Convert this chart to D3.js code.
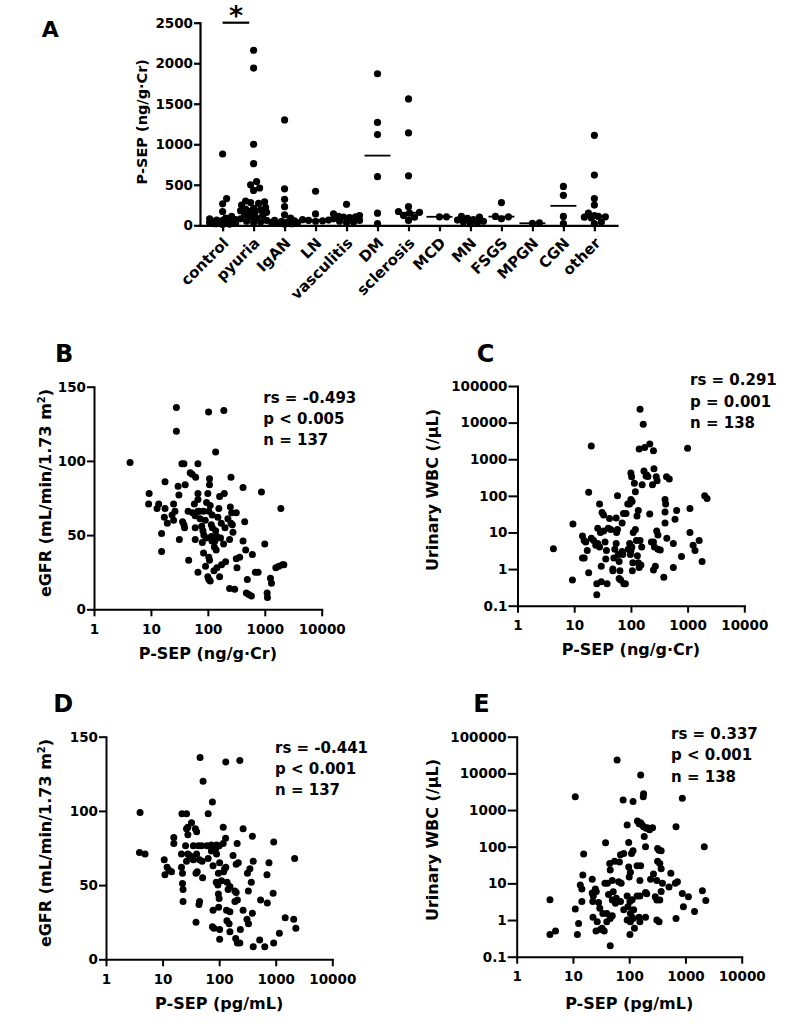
<!DOCTYPE html>
<html><head><meta charset="utf-8">
<script src="https://cdn.jsdelivr.net/npm/d3@7"></script>
<style>
body{margin:0;background:#fff}
svg text{font-family:"DejaVu Sans",sans-serif;font-weight:bold;fill:#000}
</style>
</head><body>
<svg id="chart" width="812" height="1024"></svg>
<script>
// ---------- Panel A data ----------
const categories = ["control","pyuria","IgAN","LN","vasculitis","DM","sclerosis","MCD","MN","FSGS","MPGN","CGN","other"];
const controlVals = [880,330,265,170,110,90,80,70,65,60,55,50,45,40,35,30,25,20,15,10];
const pyuriaVals = [2160,1940,1000,760,540,500,460,430,300,290,280,270,250,220,210,200,190,180,170,160,150,130,120,100,90,80,60,50,40,30];
const igaVals = [1300,450,320,230,130,90,60,55,50,40,35,30,25,20,15];
const lnVals = [420,140,70,65,60,55,50];
const vascVals = [260,140,120,110,105,100,95,80,60,50,40,30];
const dmVals = [1870,1270,1120,600,150,20];
const sclerosisVals = [1560,1140,610,230,170,160,150,120,100,60];
const mcdVals = [105,105];
const mnVals = [110,100,85,70,65,50,40,30,20];
const fsgsVals = [280,110,105,80];
const mpgnVals = [30,25];
const cgnVals = [480,370,110,20];
const otherVals = [1110,620,330,250,150,120,110,105,100,90,40,20];
const groupValues = [controlVals,pyuriaVals,igaVals,lnVals,vascVals,dmVals,sclerosisVals,mcdVals,mnVals,fsgsVals,mpgnVals,cgnVals,otherVals];
const groupMedians = [62,205,50,65,98,860,155,105,65,107,25,240,115];
const aTicks = [0,500,1000,1500,2000,2500];

// ---------- Scatter data: [P-SEP, y] ----------
const panelB = [
[28,136],[28,120],[103,133],[191,134],[137,106],[4.3,99],
[35,98],[38,98],[67,98],
[49,92],[53,91],[61,89],[107,88],[255,89],
[17.7,86],[40,84],[107,84],[415,82],[30,83],
[9.3,78],[31,77],[67,78],[100,78],[194,78],[161,76],[874,79],
[9.1,71],[13.7,71],[25,71],[58,71],[67,74],[110,70],[248,69],
[12.8,68],[17.7,68],[26.5,66],[54,65],[67,66],[71,66],[84,66],[104,66],[156,68],[262,65],[316,65],[1915,68],
[17.2,62],[23.5,63.5],[25,60],[36,59],[38,57],[73,61],[119,63.5],[225,61],[255,58],[269,57],[172,58],[444,59],
[19.4,58],[39,55],[78,56],[82,53],[115,57],[137,53],[276,52],
[15.4,51],[60,55],[115,49],[93,48],[144,49],
[31.6,47],[60,47],[118,46],[133,46],[167,48],[241,47],[189,44],[415,46],[1000,44],
[15.4,39],[84,38],[140,40],[462,40],
[46,33],[104,35],[107,33],[316,34],[362,35],[606,37],
[91,29],[174,30],[205,32],[144,28],[325,28],[1563,28],[1766,29],[2050,30],[2163,30],
[67,25],[128,26],[684,25],[763,25],
[100,22],[104,20],[110,19],[161,22],[494,20],[1259,21],[1312,17.5],
[241,14],[296,13.5],[475,11],[522,10],[582,9],[1100,11],
[1114,8],
[90,60],[120,55],[150,62],[80,45],[130,42],[95,72],[200,55],[60,63],[45,66],[85,50]
];
const panelC = [
[4.3,3.6],[9.3,0.5],[9.5,17],[20,2300],[18,125],
[14,8],[15,6],[16,5.5],[14,2],[15,2],[17,3.2],[18,0.8],[20,7],[22,6],[24,4.5],
[26,13],[28,60],[31,35],[33,30],[26,5],[28,4],[29,10],[33,11],[30,1.2],[30,0.45],[25,0.4],[25,0.2],[35,5.5],[37,3.2],[36,1.9],[38,0.4],
[42,24],[44,12],[40,13],[48,1],[48,0.9],[50,2],[55,25],[56,10],[58,100],[58,12],[52,3.5],[55,5],[60,2.5],[62,1.6],[64,0.9],[62,0.55],[66,0.5],[70,3],[72,2.5],[75,0.4],[80,0.4],
[70,18],[74,33],[82,33],[88,60],[95,60],[100,80],[105,70],[90,3.5],[95,5],[98,2.5],[100,3.2],[104,4],[108,1.5],[106,0.9],
[100,420],[103,330],[115,220],[120,12],[110,10],[125,6],[130,2.3],[135,1.5],[140,1.1],[150,1.3],[128,28],[135,40],[120,130],
[145,6],[155,4],[140,1900],[175,2100],[145,23000],[165,9000],[170,480],[190,370],[200,340],[158,200],[185,350],
[215,2600],[250,1700],[255,550],[280,330],[290,260],[240,200],[215,32],[250,5.5],[260,4],[270,1.2],[250,0.95],[230,5.5],[300,3.5],[285,11],[300,8.5],[330,3.3],[380,0.6],
[425,330],[475,290],[400,80],[410,60],[400,36],[400,18],[430,7],[600,23],[560,5],[560,1.1],[780,2.2],[640,40],[1000,2000],
[1100,45],[1100,10],[1250,4.5],[1350,3.2],[1600,6],[1800,1.6],[2000,100],[2200,85]
];
const panelD = [
[4,99],[3.9,72],[4.9,71],
[46,136],[52,120],[131,133],[232,134],[76,106],[64,98],
[22,98],[26.5,98],[32.5,92],[28,89],[26.5,88],[38,88],[40,86],
[15.8,82],[15.8,78],[28,84],
[25.5,76.5],[35,76.5],[43,76.5],[49,76.5],[61,76.5],[73,77],[90,77],[100,76.5],
[118,89],[130,81.5],[118,78],[208,78],[265,88],[387,83],[922,79],[2160,68],
[10.7,67],[12,62],[14.4,59],[11,57],[13,60],
[21.6,71],[21.6,62],[22.5,58],[22.5,51],[23,47],[23,39],
[26.5,66],[28,71],[30,70],[33,69],[35,67],
[40,71],[45,67],[50,66],
[39,58],[41,59],[45,39],[44,37],[39,25],
[51,55],[64,68],[73,73],[88,75],
[78,63],[90,71],[102,65],[97,58],[110,53],[89,52],[95,50],
[120,59],[125,61],[131,62],[138,52],[155,49],[144,47],
[97,44],[100,41],[98,35],[78,33],
[76,22],[81,21],[102,20],[102,13.5],
[135,33],[155,32],[137,26],[150,24],[155,18.6],
[190,46],[200,45],[210,40],[190,39],
[176,70],[218,65],[200,64],
[196,14],[210,11],[232,11],[237,20],
[265,33],[310,27],[330,24],[328,46],[316,58],[350,61],[370,52],[387,31],[400,66],[400,8.5],
[540,40],[710,38],[700,57],[760,65],[640,8.5],[520,13],[900,44.5],[920,11],[1160,17.5],[1470,28],[2080,27],[2270,21]
];
const panelE = [
[3.9,3.6],[3.9,0.4],[4.9,0.5],
[11,2300],[11,2],[12,0.4],[12.6,0.8],[13.5,9],[14.4,7],[15.5,63],[15,17],[14.4,3.2],
[22,13],[22,5.5],[25,7],[23,4.5],[26,6],[22.5,3.2],[22.7,1.2],[25.7,0.5],[30.7,0.55],[28.6,3],[30,2.1],[27,0.9],[33,0.6],[34,1.5],[40,1.5],
[37,10],[41,10],[43,5],[38,128],[45,35],[46,23],[50,12],[40,0.9],[46,1.1],[50,1.3],[36,0.5],[46,0.2],
[52,5.9],[50,3.5],[59,3.9],[57,2.85],[70,3.2],
[55,40],[67,38],[70,60],[80,65],[65,11],[72,10],
[78,1870],[61,23000],[98,130],[92,390],[110,65],[117,78],[98,28],[105,20],[100,15],
[92,4.5],[113,3.6],[103,3.2],[80,1.9],[95,2.3],[105,1.5],[120,1.9],[113,1.2],
[92,1],[105,0.9],[117,1.1],[103,0.4],[124,0.6],
[117,1700],[140,500],[150,420],[160,450],[160,9000],[138,30],[160,30],[155,12],[138,4.5],[155,4.5],[150,1.2],[155,0.9],
[170,390],[178,2300],[180,2800],[180,350],[200,320],[210,330],[230,290],[260,330],[185,190],[195,100],[195,5.6],[205,5.2],[195,1.2],
[240,13],[270,18],[290,4.3],[310,12],[310,1],[310,3.5],[350,3.5],[320,90],[340,80],[370,78],[320,40],[350,35],[370,25],[370,6],[390,10],[340,0.9],
[550,19],[510,8],[660,10],[720,11],[680,350],[680,1.1],[880,2100],[880,5.3],[920,2.3],[1130,4.3],[1450,1.7],[2000,6.3],[2160,100],[2300,3.4]
];
const xTickVals = [1,10,100,1000,10000];
const egfrTicks = [0,50,100,150];
const wbcTicks = [0.1,1,10,100,1000,10000,100000];

// ---------- drawing ----------
const svg = d3.select("#chart");
const FONT = '"DejaVu Sans",sans-serif';
const fmt = d => String(d);
function styleAxis(g, sw, fs){
  g.attr("font-family", FONT).attr("font-size", fs).attr("font-weight","bold");
  g.select(".domain").attr("stroke","#000").attr("stroke-width", sw).attr("stroke-linecap","square");
  g.selectAll(".tick line").attr("stroke","#000").attr("stroke-width", sw);
  g.selectAll(".tick text").attr("fill","#000").attr("font-size", fs);
}
function label(x, y, txt, size, opts={}){
  const t = svg.append("text").attr("x",x).attr("y",y).attr("font-size",size).text(txt);
  if(opts.anchor) t.attr("text-anchor",opts.anchor);
  if(opts.transform) t.attr("transform",opts.transform);
  return t;
}

// Panel A
(function(){
  const x = d3.scalePoint().domain(categories).range([200,617]).padding(0.73);
  const y = d3.scaleLinear().domain([0,2500]).range([225.3,22.7]);
  const r = 3.6;
  const gx = svg.append("g").attr("transform","translate(0,225.3)")
    .call(d3.axisBottom(x).tickSize(6).tickSizeOuter(0).tickFormat(""));
  styleAxis(gx, 2.2, 13.5);
  const gy = svg.append("g").attr("transform","translate(200,0)")
    .call(d3.axisLeft(y).tickValues(aTicks).tickFormat(fmt).tickSize(6).tickSizeOuter(0).tickPadding(1));
  styleAxis(gy, 2.2, 13.5);
  categories.forEach(c=>{
    label(x(c)+7, 244, c, 15, {anchor:"end", transform:`rotate(-45 ${x(c)+7} 244)`});
  });
  groupValues.forEach((vals,gi)=>{
    const cx = x(categories[gi]);
    const placed = [];
    vals.slice().sort((a,b)=>a-b).forEach(v=>{
      const py = y(v);
      let best = 0, bestD = -1;
      for(let k=0;k<=28;k++){
        const off = (k%2===1 ? 1 : -1) * Math.ceil(k/2);
        if(Math.abs(off)>13) continue;
        let md = Infinity;
        placed.forEach(p=>{ md = Math.min(md, Math.hypot(p[0]-(cx+off), p[1]-py)); });
        if(md >= 6.4){ best = off; bestD = md; break; }
        if(md > bestD){ bestD = md; best = off; }
      }
      placed.push([cx+best, py]);
    });
    svg.append("g").selectAll("circle").data(placed).join("circle")
      .attr("cx",d=>d[0]).attr("cy",d=>d[1]).attr("r",r).attr("fill","#000");
    svg.append("line").attr("x1",cx-13).attr("x2",cx+13)
      .attr("y1",y(groupMedians[gi])).attr("y2",y(groupMedians[gi]))
      .attr("stroke","#000").attr("stroke-width",1.8);
  });
  svg.append("line").attr("x1",x("control")).attr("x2",x("control")+26.6)
    .attr("y1",y(2500)).attr("y2",y(2500)).attr("stroke","#000").attr("stroke-width",2.2);
  label(236, 25, "*", 27, {anchor:"middle"});
  label(147, 121.7, "P-SEP (ng/g·Cr)", 14.5, {anchor:"middle", transform:"rotate(-90 147 121.7)"});
  label(41.7, 36.7, "A", 22);
})();

function scatter(cfg){
  const x = d3.scaleLog().domain([1,10000]).range(cfg.xr);
  const y = cfg.logY ? d3.scaleLog().domain([0.1,100000]).range(cfg.yr)
                     : d3.scaleLinear().domain([0,150]).range(cfg.yr);
  const gx = svg.append("g").attr("transform",`translate(0,${cfg.yr[0]})`)
    .call(d3.axisBottom(x).tickValues(xTickVals).tickFormat(fmt).tickSize(7).tickSizeOuter(0).tickPadding(8));
  styleAxis(gx, 2, 13.5);
  const gy = svg.append("g").attr("transform",`translate(${cfg.xr[0]},0)`)
    .call(d3.axisLeft(y).tickValues(cfg.logY ? wbcTicks : egfrTicks).tickFormat(fmt)
      .tickSize(cfg.logY ? 9 : 7).tickSizeOuter(0).tickPadding(1));
  styleAxis(gy, 2, 13.5);
  svg.append("g").selectAll("circle").data(cfg.data).join("circle")
    .attr("cx",d=>x(d[0])).attr("cy",d=>y(d[1])).attr("r",3.5).attr("fill","#000");
  const cxm = (cfg.xr[0]+cfg.xr[1])/2;
  label(cxm, cfg.xTitleY, cfg.xTitle, 16, {anchor:"middle"});
  const ty = cfg.yTitleC;
  const yt = label(cfg.yTitleX, ty, "", 16, {anchor:"middle", transform:`rotate(-90 ${cfg.yTitleX} ${ty})`});
  if(cfg.logY){ yt.text("Urinary WBC (/μL)"); }
  else {
    yt.append("tspan").text("eGFR (mL/min/1.73 m");
    yt.append("tspan").attr("font-size",10).attr("dy",-6).text("2");
    yt.append("tspan").attr("dy",6).text(")");
  }
  cfg.stats.forEach((s,i)=> label(cfg.statX, cfg.statY[i], s, 15));
  label(cfg.letterX, cfg.letterY, cfg.letter, 24);
}

scatter({data:panelB, logY:false, xr:[94,321.7], yr:[609.3,386.7],
  xTitle:"P-SEP (ng/g·Cr)", xTitleY:659, yTitleX:50.5, yTitleC:493,
  stats:["rs = -0.493","p < 0.005","n = 137"], statX:263.3, statY:[402.7,423.5,445],
  letter:"B", letterX:55, letterY:361.7});
scatter({data:panelC, logY:true, xr:[517.5,744.3], yr:[605.7,386],
  xTitle:"P-SEP (ng/g·Cr)", xTitleY:655, yTitleX:438.3, yTitleC:490,
  stats:["rs = 0.291","p = 0.001","n = 138"], statX:690, statY:[385,406.7,428.3],
  letter:"C", letterX:476.7, letterY:362});
scatter({data:panelD, logY:false, xr:[106,332.3], yr:[959.3,736.7],
  xTitle:"P-SEP (pg/mL)", xTitleY:1009, yTitleX:50.5, yTitleC:843,
  stats:["rs = -0.441","p < 0.001","n = 137"], statX:275, statY:[752.7,773.5,795],
  letter:"D", letterX:53.3, letterY:711.7});
scatter({data:panelE, logY:true, xr:[516.7,741.7], yr:[956.7,736.7],
  xTitle:"P-SEP (pg/mL)", xTitleY:1009, yTitleX:438.3, yTitleC:840,
  stats:["rs = 0.337","p < 0.001","n = 138"], statX:671, statY:[739.3,760,781.7],
  letter:"E", letterX:473.3, letterY:712});
</script>
</body></html>
